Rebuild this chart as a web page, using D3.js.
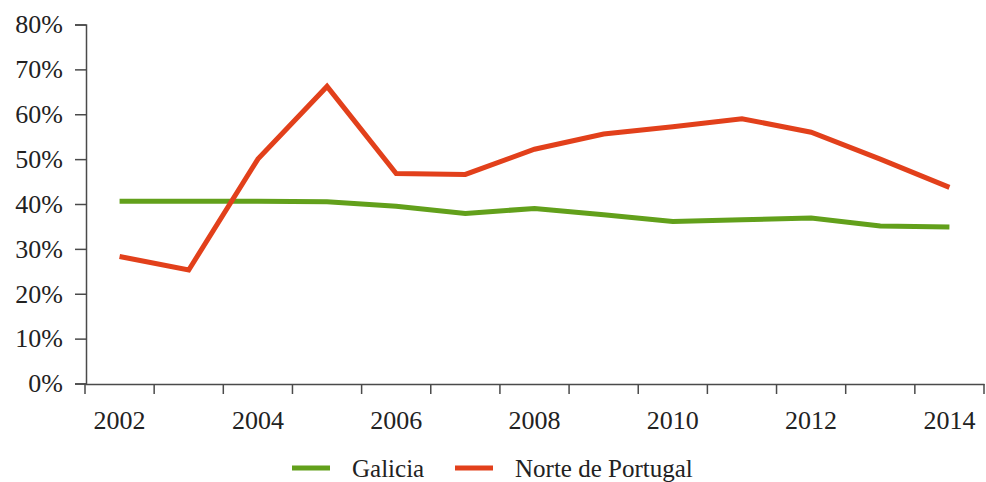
<!DOCTYPE html>
<html>
<head>
<meta charset="utf-8">
<script src="https://cdn.jsdelivr.net/npm/d3@7"></script>
<style>
    body { margin: 0; background: #fff; }
    svg text { font-family: "Liberation Serif", "DejaVu Serif", serif; fill: #222; }
</style>
</head>
<body>
<svg id="chart" width="986" height="482"></svg>
<script>
    var years = [2002, 2003, 2004, 2005, 2006, 2007, 2008, 2009, 2010, 2011, 2012, 2013, 2014];
    var galicia = [40.6, 40.6, 40.6, 40.5, 39.5, 37.9, 39.0, 37.6, 36.1, 36.5, 36.9, 35.1, 34.9];
    var norte = [28.3, 25.3, 50.0, 66.2, 46.8, 46.6, 52.2, 55.6, 57.2, 59.0, 56.0, 50.0, 43.7];
    var yTicks = [0, 10, 20, 30, 40, 50, 60, 70, 80];
    var seriesNames = ["Galicia", "Norte de Portugal"];
    var seriesColors = ["#62a01b", "#e2401b"];

    var svg = d3.select("#chart");
    var axisColor = "#4a4a4a";

    var x = d3.scaleBand()
        .domain(years)
        .range([85, 984]);

    var y = d3.scaleLinear()
        .domain([0, 80])
        .range([383.5, 24.5]);

    // y axis
    var yAxis = svg.append("g")
        .attr("transform", "translate(86,0)")
        .call(d3.axisLeft(y)
            .tickValues(yTicks)
            .tickSize(11)
            .tickPadding(12)
            .tickFormat(function(d) { return d + "%"; }));

    yAxis.select(".domain").attr("stroke", axisColor).attr("stroke-width", 1.5);
    yAxis.selectAll(".tick line").attr("stroke", axisColor).attr("stroke-width", 1.5);
    yAxis.selectAll(".tick text")
        .attr("font-size", 26)
        .attr("fill", "#222");

    // x axis - labels on every other year, ticks between categories
    var xAxis = svg.append("g")
        .attr("transform", "translate(0,384)")
        .call(d3.axisBottom(x)
            .tickSize(0)
            .tickPadding(27)
            .tickFormat(function(d) { return d % 2 === 0 ? d : ""; }));

    xAxis.select(".domain").attr("stroke", axisColor).attr("stroke-width", 1.5);
    xAxis.selectAll(".tick text")
        .attr("font-size", 26)
        .attr("fill", "#222");

    var bounds = years.map(function(d) { return x(d); });
    bounds.push(x(years[years.length - 1]) + x.step());

    xAxis.selectAll("line.sep")
        .data(bounds)
        .enter().append("line")
        .attr("class", "sep")
        .attr("x1", function(d) { return d; })
        .attr("x2", function(d) { return d; })
        .attr("y1", 0)
        .attr("y2", 10)
        .attr("stroke", axisColor)
        .attr("stroke-width", 1.5);

    // lines
    var line = d3.line()
        .x(function(d, i) { return x(years[i]) + x.bandwidth() / 2; })
        .y(function(d) { return y(d); });

    [galicia, norte].forEach(function(values, k) {
        svg.append("path")
            .datum(values)
            .attr("fill", "none")
            .attr("stroke", seriesColors[k])
            .attr("stroke-width", 5)
            .attr("stroke-linejoin", "miter")
            .attr("d", line);
    });

    // legend
    var legendX = [292, 455];
    var legend = svg.selectAll("g.legend")
        .data(seriesNames)
        .enter().append("g")
        .attr("class", "legend")
        .attr("transform", function(d, i) { return "translate(" + legendX[i] + ",468)"; });

    legend.append("line")
        .attr("x1", 0)
        .attr("x2", 38)
        .attr("y1", 0)
        .attr("y2", 0)
        .attr("stroke", function(d, i) { return seriesColors[i]; })
        .attr("stroke-width", 5);

    legend.append("text")
        .attr("x", 60)
        .attr("y", 9)
        .attr("font-size", 25)
        .text(function(d) { return d; });
</script>
</body>
</html>
